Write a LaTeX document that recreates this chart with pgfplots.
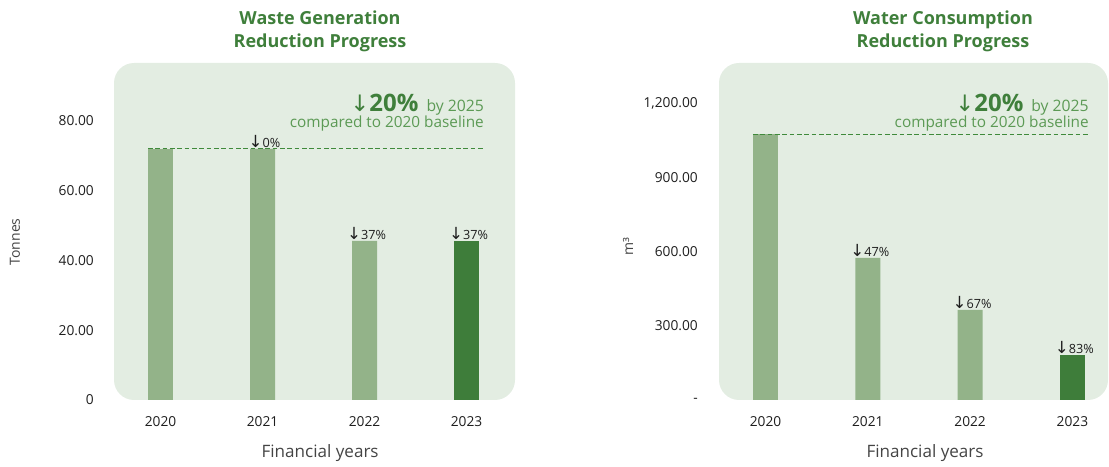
\documentclass[border=0pt]{standalone}
\usepackage{fontspec}
\setmainfont{Open Sans}
\newfontfamily\sym{DejaVu Sans}
\usepackage{pgfplots}
\pgfplotsset{compat=1.18}
\definecolor{bgc}{HTML}{E3EDE2}
\definecolor{lightbar}{HTML}{93B389}
\definecolor{darkbar}{HTML}{3E7D3A}
\definecolor{titlec}{HTML}{3F7F3B}
\definecolor{annc}{HTML}{5C9A55}
\definecolor{dashc}{HTML}{3F8A3B}
\definecolor{tickc}{HTML}{1E1E1E}
\definecolor{labc}{HTML}{444444}
\pgfplotsset{
  common/.style={
    scale only axis, clip=false,
    height=252.75pt,
    axis line style={draw=none},
    tick style={draw=none}, major tick length=0pt,
    xtick={0,1,2,3}, xticklabels={2020,2021,2022,2023},
    ticklabel style={font=\fontsize{10.3}{12}\selectfont, text=tickc},
    xticklabel style={anchor=center, yshift=-16.5pt},
    yticklabel style={anchor=east, inner sep=0pt},
    axis background/.style={fill=bgc, rounded corners=15pt},
    xlabel={Financial years},
    xlabel style={font=\fontsize{12.8}{14}\selectfont, text=labc, anchor=center},
    ylabel style={font=\fontsize{10.5}{12}\selectfont, text=labc, anchor=center},
    /pgf/number format/assume math mode=true,
    nodes near coords={{\sym\fontsize{12.5}{12}\selectfont ↓}{\fontsize{9.5}{9}\selectfont\pgfplotspointmeta\%}},
    every node near coord/.style={anchor=south, inner sep=1pt, text=tickc, xshift=1.5pt},
  },
  barL/.style={ybar, bar width=18.75pt, bar shift=0pt, fill=lightbar, draw=none},
  barD/.style={ybar, bar width=18.75pt, bar shift=0pt, fill=darkbar, draw=none},
}
\begin{document}
\begin{tikzpicture}
\path[use as bounding box] (0,0) rectangle (831.75pt,350.25pt);
% titles
\node[anchor=base, font=\fontsize{13.5}{16}\selectfont\bfseries, text=titlec] at (240pt,331.5pt) {Waste Generation};
\node[anchor=base, font=\fontsize{13.5}{16}\selectfont\bfseries, text=titlec] at (240pt,314.25pt) {Reduction Progress};
\node[anchor=base, font=\fontsize{13.5}{16}\selectfont\bfseries, text=titlec] at (707.25pt,331.5pt) {Water Consumption};
\node[anchor=base, font=\fontsize{13.5}{16}\selectfont\bfseries, text=titlec] at (707.25pt,314.25pt) {Reduction Progress};

% left chart
\begin{axis}[common,
  at={(85.5pt,50.25pt)}, anchor=south west,
  width=300.75pt,
  xmin=-0.456, xmax=3.475, ymin=0, ymax=96.6,
  ytick={0,20,40,60,80}, yticklabels={0,20.00,40.00,60.00,80.00},
  yticklabel style={xshift=-15pt},
  ylabel={Tonnes},
  ylabel style={at={(axis description cs:-0.247,0.469)}},
  xlabel style={at={(axis description cs:0.514,-0.157)}},
  point meta=explicit symbolic,
]
\addplot[barL, nodes near coords={}] coordinates {(0,72) [x]};
\addplot[barL] coordinates {(1,72) [0] (2,45.6) [37]};
\addplot[barD] coordinates {(3,45.6) [37]};
\addplot[dashc, line width=0.6pt, dash pattern=on 3.5pt off 2pt, mark=none, nodes near coords={}] coordinates {(-0.1225,72) [x] (3.172,72) [x]};
\node[anchor=base east, inner sep=0pt] at (axis cs:3.172,82.6) {{\color{titlec}{\sym\fontsize{17}{17}\selectfont ↓}\fontsize{18}{18}\selectfont\bfseries 20\%}\hspace{6pt}{\color{annc}\fontsize{11.8}{12}\selectfont by 2025}};
\node[anchor=base east, inner sep=0pt, text=annc, font=\fontsize{11.5}{12}\selectfont] at (axis cs:3.172,78.0) {compared to 2020 baseline};
\end{axis}

% right chart
\begin{axis}[common,
  at={(539.25pt,50.25pt)}, anchor=south west,
  width=291.75pt,
  xmin=-0.4545, xmax=3.348, ymin=0, ymax=1361.6,
  ytick={0,300,600,900,1200}, yticklabels={-,300.00,600.00,900.00,{1,200.00}},
  yticklabel style={xshift=-15.75pt},
  ylabel={m³},
  ylabel style={at={(axis description cs:-0.234,0.454)}},
  xlabel style={at={(axis description cs:0.5296,-0.157)}},
  point meta=explicit symbolic,
]
\addplot[barL, nodes near coords={}] coordinates {(0,1075) [x]};
\addplot[barL] coordinates {(1,574) [47] (2,364) [67]};
\addplot[barD] coordinates {(3,182) [83]};
\addplot[dashc, line width=0.6pt, dash pattern=on 3.5pt off 2pt, mark=none, nodes near coords={}] coordinates {(-0.1225,1075) [x] (3.162,1075) [x]};
\node[anchor=base east, inner sep=0pt] at (axis cs:3.162,1164) {{\color{titlec}{\sym\fontsize{17}{17}\selectfont ↓}\fontsize{18}{18}\selectfont\bfseries 20\%}\hspace{6pt}{\color{annc}\fontsize{11.8}{12}\selectfont by 2025}};
\node[anchor=base east, inner sep=0pt, text=annc, font=\fontsize{11.5}{12}\selectfont] at (axis cs:3.162,1099) {compared to 2020 baseline};
\end{axis}
\end{tikzpicture}
\end{document}
